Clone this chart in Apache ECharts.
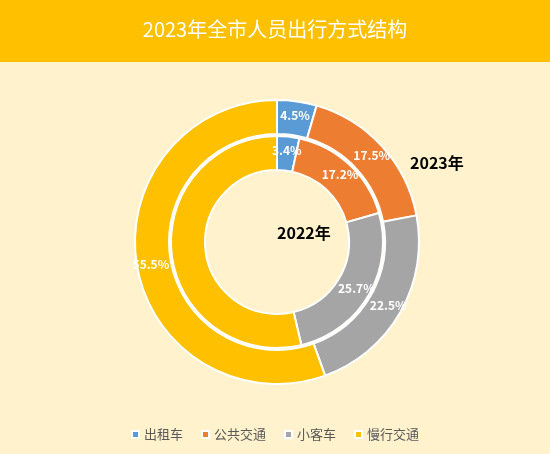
<!DOCTYPE html>
<html><head><meta charset="utf-8">
<script src="https://cdn.jsdelivr.net/npm/echarts@6/dist/echarts.min.js"></script>
<style>html,body{margin:0;padding:0;background:#FFF2CC}#c{width:550px;height:454px}</style>
</head><body><div id="c"></div>
<script>
const categories = ['出租车','公共交通','小客车','慢行交通'];
const values2023 = [4.5,17.5,22.5,55.5];
const values2022 = [3.4,17.2,25.7,53.7];
const colors = ['#5B9BD5','#ED7D31','#A5A5A5','#FFC000'];
const chart = echarts.init(document.getElementById('c'));
const lbl = {show:true,position:'inside',color:'#fff',fontSize:12,fontWeight:'bold',formatter:p=>p.value.toFixed(1)+'%',fontFamily:'Noto Sans CJK SC'};
chart.setOption({
  backgroundColor:'#FFF2CC',
  color:colors,
  graphic:[
    {type:'rect',left:0,top:0,shape:{width:550,height:62},style:{fill:'#FFC000'}},
    {type:'text',left:'center',top:19,style:{text:'2023年全市人员出行方式结构',fill:'#fff',font:'20px "Noto Sans CJK SC"'}},
    {type:'text',left:410,top:155,style:{text:'2023年',fill:'#000',font:'bold 16px "Noto Sans CJK SC"'}},
    {type:'text',left:277,top:225,style:{text:'2022年',fill:'#000',font:'bold 16px "Noto Sans CJK SC"'}}
  ],
  legend:{bottom:8,itemWidth:7,itemHeight:7,itemGap:18,icon:'rect',textStyle:{color:'#595959',fontSize:13,fontFamily:'Noto Sans CJK SC'},data:categories},
  series:[
    {type:'pie',name:'2023',radius:[108,142],center:[277,242],startAngle:90,clockwise:true,label:lbl,labelLine:{show:false},
     itemStyle:{borderColor:'#fff',borderWidth:2},silent:true,
     data:categories.map((n,i)=>({name:n,value:values2023[i]}))},
    {type:'pie',name:'2022',radius:[72,106],center:[277,242],startAngle:90,clockwise:true,label:lbl,labelLine:{show:false},
     itemStyle:{borderColor:'#fff',borderWidth:2},silent:true,
     data:categories.map((n,i)=>({name:n,value:values2022[i]}))}
  ]
});
</script></body></html>
